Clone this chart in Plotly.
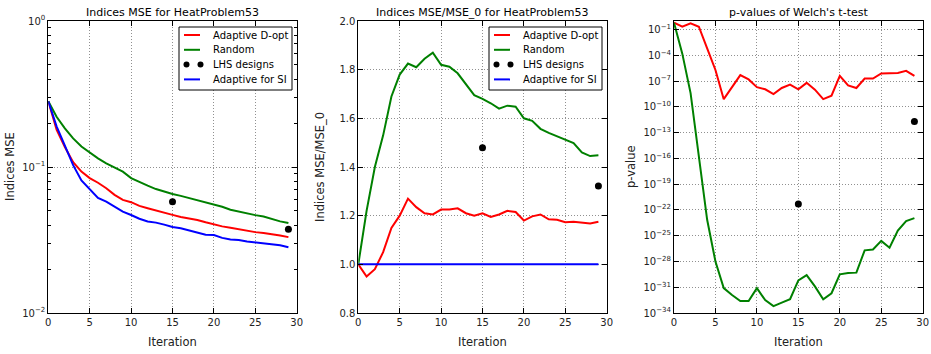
import plotly.graph_objects as go

iterations = list(range(30))

# Panel 1: Indices MSE (log scale)
mse_dopt = [0.282, 0.180, 0.137, 0.108, 0.093, 0.084, 0.078, 0.0715, 0.0644, 0.0595,
            0.0574, 0.0542, 0.0522, 0.0503, 0.0483, 0.0470, 0.0455, 0.0445, 0.0434, 0.0418,
            0.0403, 0.0392, 0.0384, 0.0374, 0.0366, 0.0358, 0.0353, 0.0347, 0.0340, 0.0331]
mse_random = [0.282, 0.221, 0.184, 0.157, 0.138, 0.125, 0.1146, 0.106, 0.099, 0.093,
              0.084, 0.0788, 0.0745, 0.0706, 0.0677, 0.0653, 0.0634, 0.0612, 0.0595, 0.0577,
              0.0557, 0.0534, 0.0510, 0.0494, 0.0481, 0.0468, 0.0458, 0.0440, 0.0424, 0.0413]
mse_si = [0.282, 0.190, 0.140, 0.103, 0.081, 0.070, 0.0614, 0.0579, 0.0532, 0.0494,
          0.0469, 0.0442, 0.0424, 0.0416, 0.0403, 0.0388, 0.0381, 0.0369, 0.0356, 0.0344,
          0.0342, 0.0327, 0.0319, 0.0316, 0.0309, 0.0305, 0.0300, 0.0296, 0.0291, 0.0282]
lhs_x = [15, 29]
lhs_mse = [0.0577, 0.0375]

# Panel 2: Indices MSE / MSE_0
ratio_dopt = [1.0, 0.95, 0.98, 1.05, 1.15, 1.20, 1.27, 1.235, 1.21, 1.205,
              1.225, 1.225, 1.23, 1.21, 1.20, 1.21, 1.195, 1.205, 1.22, 1.215,
              1.18, 1.197, 1.205, 1.185, 1.183, 1.173, 1.175, 1.173, 1.168, 1.175]
ratio_random = [1.0, 1.22, 1.40, 1.53, 1.69, 1.78, 1.825, 1.81, 1.845, 1.87,
                1.82, 1.812, 1.785, 1.74, 1.695, 1.68, 1.662, 1.64, 1.652, 1.648,
                1.60, 1.59, 1.557, 1.54, 1.527, 1.513, 1.498, 1.46, 1.445, 1.448]
ratio_si = [1.0] * 30
lhs_ratio = [1.479, 1.322]

# Panel 3: p-values (log10 exponents)
logp_dopt = [-0.2, -0.67, -0.28, -0.67, -3.2, -5.7, -9.1, -7.7, -6.3, -6.8,
             -7.7, -7.95, -8.5, -7.8, -7.4, -7.95, -7.2, -8.0, -9.1, -8.7,
             -6.4, -7.5, -7.8, -6.7, -6.7, -6.1, -6.1, -6.05, -5.8, -6.4]
logp_random = [-0.2, -3.8, -8.4, -16.0, -23.15, -28.0, -31.1, -31.9, -32.6, -32.6,
               -31.1, -32.5, -33.2, -32.8, -32.4, -30.2, -29.6, -30.9, -32.4, -31.7,
               -29.5, -29.35, -29.3, -26.7, -26.6, -25.6, -26.4, -24.4, -23.3, -22.95]
logp_lhs = [-21.3, -11.7]
pval_dopt = [10 ** v for v in logp_dopt]
pval_random = [10 ** v for v in logp_random]
pval_lhs = [10 ** v for v in logp_lhs]

series_names = ["Adaptive D-opt", "Random", "LHS designs", "Adaptive for SI"]
x_ticks = [0, 5, 10, 15, 20, 25, 30]
p1_ticks = [1e-2, 1e-1, 1e0]
p1_ticktext = ["10<sup>−2</sup>", "10<sup>−1</sup>", "10<sup>0</sup>"]
p1_minor = [m * 10 ** e for e in (-2, -1) for m in range(2, 10)]
p2_ticks = [0.8, 1.0, 1.2, 1.4, 1.6, 1.8, 2.0]
p3_exps = [-1, -4, -7, -10, -13, -16, -19, -22, -25, -28, -31, -34]
p3_ticks = [10 ** e for e in p3_exps]
p3_ticktext = ["10<sup>−%d</sup>" % (-e) for e in p3_exps]

RED, GREEN, BLUE = "#ff0000", "#008000", "#0000ff"
FONT = "DejaVu Sans"
W, H = 931.0, 354.0

fig = go.Figure()


def add_panel(xa, ya, ys):
    dopt, rnd, lhs, si = ys
    fig.add_trace(go.Scatter(x=iterations, y=dopt, mode="lines", name=series_names[0],
                             line=dict(color=RED, width=2), xaxis=xa, yaxis=ya))
    fig.add_trace(go.Scatter(x=iterations, y=rnd, mode="lines", name=series_names[1],
                             line=dict(color=GREEN, width=2), xaxis=xa, yaxis=ya))
    fig.add_trace(go.Scatter(x=lhs_x, y=lhs, mode="markers", name=series_names[2],
                             marker=dict(color="black", size=7), xaxis=xa, yaxis=ya))
    if si is not None:
        fig.add_trace(go.Scatter(x=iterations, y=si, mode="lines", name=series_names[3],
                                 line=dict(color=BLUE, width=2), xaxis=xa, yaxis=ya))


add_panel("x", "y", (mse_dopt, mse_random, lhs_mse, mse_si))
add_panel("x2", "y2", (ratio_dopt, ratio_random, lhs_ratio, ratio_si))
add_panel("x3", "y3", (pval_dopt, pval_random, pval_lhs, None))

ydom = [1 - 313 / H, 1 - 21 / H]
xdoms = [[48.3 / W, 296.7 / W], [358.3 / W, 606.7 / W], [674 / W, 922.7 / W]]

common_axis = dict(showline=True, linecolor="black", linewidth=1, mirror="allticks",
                   ticks="inside", ticklen=5, tickcolor="black",
                   showgrid=True, gridcolor="#909090", griddash="1px,2px", gridwidth=1,
                   zeroline=False, tickfont=dict(family=FONT, size=10, color="#222"))

for i, (xa, ya) in enumerate([("xaxis", "yaxis"), ("xaxis2", "yaxis2"), ("xaxis3", "yaxis3")]):
    anchor_y = "y" if i == 0 else "y%d" % (i + 1)
    anchor_x = "x" if i == 0 else "x%d" % (i + 1)
    fig.layout[xa] = dict(domain=xdoms[i], anchor=anchor_y, range=[0, 30],
                          tickvals=x_ticks, **common_axis)
    fig.layout[ya] = dict(domain=ydom, anchor=anchor_x, **common_axis)

fig.layout.yaxis.update(type="log", range=[-2, 0], tickvals=p1_ticks, ticktext=p1_ticktext,
                        minor=dict(tickvals=p1_minor, ticks="inside", ticklen=2.5,
                                   tickcolor="black", showgrid=False))
fig.layout.yaxis2.update(range=[0.8, 2.0], tickvals=p2_ticks,
                         ticktext=["%.1f" % v for v in p2_ticks])
fig.layout.yaxis3.update(type="log", range=[-34, 0], tickvals=p3_ticks, ticktext=p3_ticktext)

titles = ["Indices MSE for HeatProblem53", "Indices MSE/MSE_0 for HeatProblem53",
          "p-values of Welch's t-test"]
ylabels = ["Indices MSE", "Indices MSE/MSE_0", "p-value"]
ylabel_x = [10 / W, 320 / W, 631 / W]
annotations = []
shapes = []
for i in range(3):
    cx = (xdoms[i][0] + xdoms[i][1]) / 2
    annotations.append(dict(text=titles[i], x=cx, y=1 - 12 / H, xref="paper", yref="paper",
                            showarrow=False, xanchor="center", yanchor="middle",
                            font=dict(family=FONT, size=11, color="black")))
    annotations.append(dict(text="Iteration", x=cx, y=1 - 342 / H, xref="paper", yref="paper",
                            showarrow=False, xanchor="center", yanchor="middle",
                            font=dict(family=FONT, size=11.5, color="#222")))
    annotations.append(dict(text=ylabels[i], x=ylabel_x[i], y=(ydom[0] + ydom[1]) / 2,
                            xref="paper", yref="paper", textangle=-90,
                            showarrow=False, xanchor="center", yanchor="middle",
                            font=dict(family=FONT, size=11.5, color="#222")))

# matplotlib-style legend boxes (compact rows, two sample points for the markers)
legend_colors = [RED, GREEN, None, BLUE]
for off in (0, 310):
    bx0, bx1, by0, by1 = 179 + off, 292 + off, 27, 90
    shapes.append(dict(type="rect", xref="paper", yref="paper",
                       x0=bx0 / W, x1=bx1 / W, y0=1 - by1 / H, y1=1 - by0 / H,
                       line=dict(color="black", width=1), fillcolor="white", layer="above"))
    for r, (name, col) in enumerate(zip(series_names, legend_colors)):
        ry = 35 + r * 14.8
        if col is not None:
            shapes.append(dict(type="line", xref="paper", yref="paper",
                               x0=(184 + off) / W, x1=(200 + off) / W,
                               y0=1 - ry / H, y1=1 - ry / H,
                               line=dict(color=col, width=2), layer="above"))
        else:
            for dx in (186.5, 200.5):
                shapes.append(dict(type="circle", xref="paper", yref="paper",
                                   x0=(dx + off - 3) / W, x1=(dx + off + 3) / W,
                                   y0=1 - (ry + 3) / H, y1=1 - (ry - 3) / H,
                                   fillcolor="black", line=dict(color="black", width=0),
                                   layer="above"))
        annotations.append(dict(text=name, x=(211 + off) / W, y=1 - ry / H,
                                xref="paper", yref="paper", showarrow=False,
                                xanchor="left", yanchor="middle",
                                font=dict(family=FONT, size=10, color="black")))

fig.update_layout(
    width=931, height=354,
    margin=dict(l=0, r=0, t=0, b=0, pad=0, autoexpand=False),
    paper_bgcolor="white", plot_bgcolor="white",
    font=dict(family=FONT, color="black"),
    showlegend=False,
    annotations=annotations,
    shapes=shapes,
)

fig.write_html("out.html",
               config={"displayModeBar": False},
               post_script="document.body.style.margin='0';document.body.style.overflow='hidden';")
